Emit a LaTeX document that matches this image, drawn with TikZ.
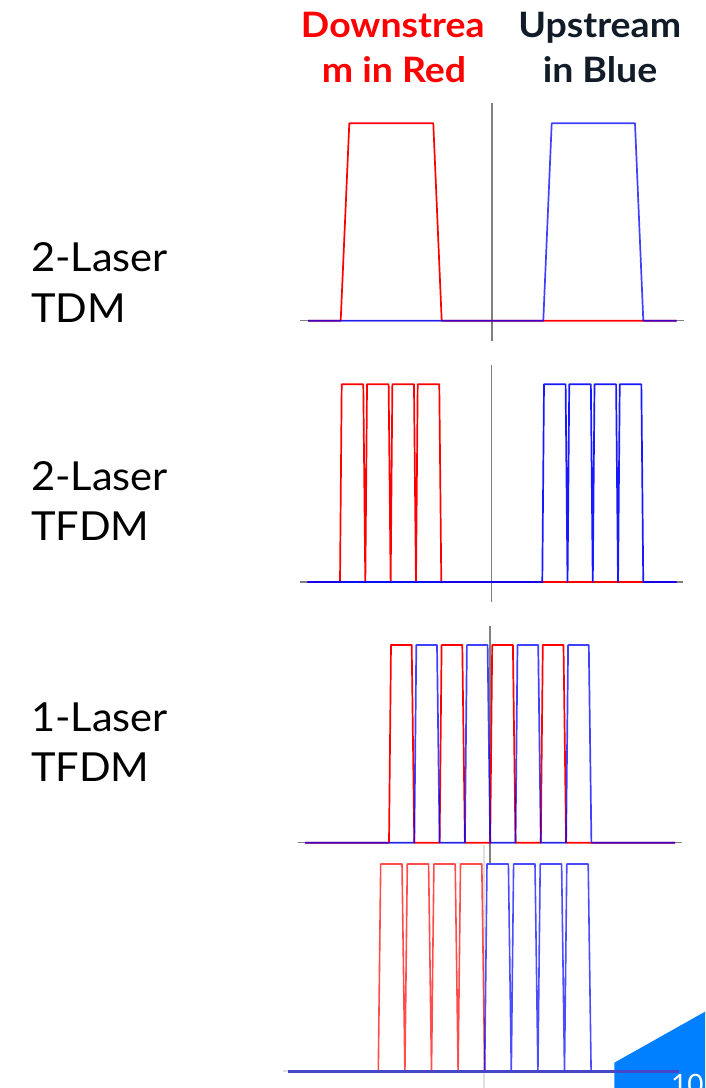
\documentclass[tikz,border=0pt]{standalone}
\usepackage{fontspec}
\setmainfont{Lato}
\definecolor{hdark}{RGB}{17,28,40}
\definecolor{sigred}{RGB}{255,0,0}
\definecolor{sigblue}{RGB}{0,0,255}
\definecolor{axisgray}{RGB}{128,128,128}
\definecolor{cornerblue}{RGB}{0,128,255}
\definecolor{thickbase}{RGB}{70,70,200}
\tikzset{
  axisline/.style={draw=axisgray, line width=1.3},
  faintaxis/.style={draw=black!12, line width=1.3},
  redsig/.style={draw=sigred, line width=1.7, line join=round},
  bluesig/.style={draw=sigblue, line width=1.7, line join=round},
  redsoft/.style={draw=sigred, line width=1.6, line join=round, draw opacity=0.7},
  bluesoft/.style={draw=sigblue, line width=1.6, line join=round, draw opacity=0.7},
  rowlabel/.style={anchor=base west, inner sep=0, xscale=1.04, font=\fontsize{40}{48}\selectfont, text=black},
  headred/.style={anchor=base, inner sep=0, xscale=1.07, font=\fontsize{35}{42}\selectfont\bfseries, text=sigred},
  headdark/.style={anchor=base, inner sep=0, xscale=1.07, font=\fontsize{35}{42}\selectfont\bfseries, text=hdark},
}
\begin{document}
\begin{tikzpicture}[x=1pt,y=-1pt]
\useasboundingbox (0,0) rectangle (705,1088);
\clip (0,0) rectangle (705,1088);

% headings
\node[headred] (dsA) at (392.7,37.3) {Downstrea};
\node[headred] (dsB) at (394,82.7) {m in Red};
\node[headdark] (usA) at (599.7,37.3) {Upstream};
\node[headdark] (usB) at (600,82.7) {in Blue};

% row labels
\node[rowlabel] (l1a) at (31,271) {2-Laser};
\node[rowlabel] (l1b) at (31,322.3) {TDM};
\node[rowlabel] (l2a) at (31,490) {2-Laser};
\node[rowlabel] (l2b) at (31,540.5) {TFDM};
\node[rowlabel] (l3a) at (31,731) {1-Laser};
\node[rowlabel] (l3b) at (31,781) {TFDM};

% ---------- plot 1: 2-Laser TDM
\draw[axisline] (300,320.7) -- (684,320.7);
\draw[axisline] (492,103) -- (492,341);
\draw[redsig] (308,320.7) -- (340.7,320.7) -- (349.3,123.3) -- (433.3,123.3) -- (441.7,320.7) -- (676.7,320.7);
\draw[bluesig, draw opacity=0.75] (308,320.7) -- (543.3,320.7) -- (551.7,123.3) -- (635,123.3) -- (643.3,320.7) -- (676.7,320.7);

% ---------- plot 2: 2-Laser TFDM
\draw[axisline] (300,582) -- (683,582);
\draw[axisline] (491.7,365) -- (491.7,601.7);
\draw[redsig] (307.3,582) \foreach \i in {0,...,3} { -- ({340+\i*25.33},582) -- ({341.7+\i*25.33},384.3) -- ({363.3+\i*25.33},384.3) -- ({365.3+\i*25.33},582) } -- (676.7,582);
\draw[bluesig, draw opacity=0.9] (307.3,582) \foreach \i in {0,...,3} { -- ({542.3+\i*25.25},582) -- ({544+\i*25.25},384.3) -- ({565.6+\i*25.25},384.3) -- ({567.5+\i*25.25},582) } -- (676.7,582);

% ---------- plot 4 faint axes (behind)
\draw[faintaxis] (484,845) -- (484,1088);
\draw[faintaxis] (283,1071) -- (685,1071);

% ---------- plot 3: 1-Laser TFDM
\draw[axisline] (298,842.7) -- (681.7,842.7);
\draw[axisline] (490,626) -- (490,863);
\draw[redsig] (305,842.7) \foreach \i in {0,...,3} { -- ({389+\i*50.6},842.7) -- ({391+\i*50.6},645) -- ({411.7+\i*50.6},645) -- ({414.3+\i*50.6},842.7) } -- (675,842.7);
\draw[bluesig, draw opacity=0.75] (305,842.7) \foreach \i in {0,...,3} { -- ({414.3+\i*50.6},842.7) -- ({416.3+\i*50.6},645) -- ({437+\i*50.6},645) -- ({439.6+\i*50.6},842.7) } -- (675,842.7);

% ---------- corner decoration
\fill[cornerblue] (614.3,1062.7) -- (705,1011.7) -- (705,1088) -- (614.3,1088) -- cycle;
\node[anchor=base west, inner sep=0, text=white, font=\fontsize{28}{34}\selectfont] (pagenum) at (671,1094) {10};

% ---------- plot 4
\draw[redsoft] \foreach \i in {0,...,3} { ({378.3+\i*26.6},1071) -- ({380.7+\i*26.6},864) -- ({402+\i*26.6},864) -- ({404.9+\i*26.6},1071) };
\draw[bluesoft] \foreach \i in {0,...,3} { ({484.7+\i*26.6},1071) -- ({487+\i*26.6},864) -- ({508.4+\i*26.6},864) -- ({511.3+\i*26.6},1071) };
\draw[draw=thickbase, line width=3] (288.3,1071) -- (679.3,1071);
\end{tikzpicture}
\end{document}
